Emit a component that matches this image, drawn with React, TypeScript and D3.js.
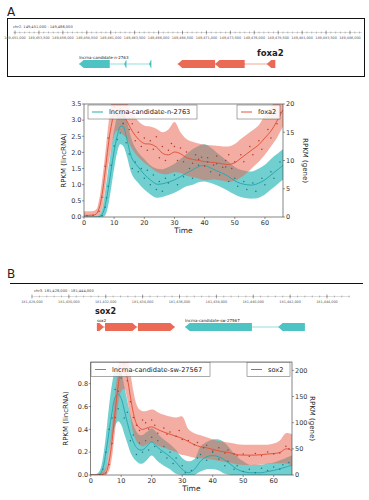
import React from "react";
import * as d3 from "d3";

const W = 369;
const H = 500;
const FONT = "DejaVu Sans, Verdana, sans-serif";

const TEAL_LINE = "#2aa9b0";
const TEAL_FILL = "#4ec3c4";
const TEAL_DOT = "#1c7a80";
const RED_LINE = "#e4553f";
const RED_FILL = "#ea6a55";
const RED_DOT = "#b03a2a";

// ---------- panel A data ----------
const timesA = [0, 2, 4, 5, 6, 7, 8, 9, 10, 11, 12, 13, 14, 16, 18, 20, 22, 24, 26, 28, 30, 32, 34, 36, 38, 40, 42, 44, 46, 48, 50, 52, 54, 56, 58, 60, 62, 64, 66];
const lncMeanA = [0, 0, 0, 0.01, 0.08, 0.35, 0.85, 1.45, 2.05, 2.5, 2.8, 2.8, 2.5, 1.8, 1.55, 1.32, 1.15, 1.02, 1.03, 1.08, 1.15, 1.25, 1.36, 1.46, 1.56, 1.6, 1.52, 1.43, 1.35, 1.25, 1.12, 1.04, 1.0, 0.99, 1.05, 1.15, 1.3, 1.45, 1.6];
const lncLowA = [0, 0, 0, 0, 0, 0.05, 0.35, 0.9, 1.5, 2.0, 2.25, 2.2, 1.95, 1.3, 1.05, 0.85, 0.7, 0.6, 0.62, 0.68, 0.75, 0.85, 0.95, 1.0, 1.08, 1.1, 1.05, 0.98, 0.9, 0.8, 0.7, 0.62, 0.58, 0.57, 0.6, 0.7, 0.85, 1.0, 1.15];
const lncHighA = [0, 0, 0.01, 0.05, 0.25, 0.8, 1.45, 2.1, 2.7, 3.1, 3.3, 3.3, 3.05, 2.35, 2.0, 1.8, 1.6, 1.5, 1.48, 1.55, 1.65, 1.8, 1.95, 2.1, 2.2, 2.25, 2.15, 2.0, 1.85, 1.7, 1.55, 1.46, 1.42, 1.42, 1.5, 1.62, 1.8, 1.95, 2.1];
const geneMeanA = [0.3, 0.3, 0.5, 1.5, 4, 8, 12.5, 16, 18.2, 18.8, 18.5, 18, 17.2, 15.2, 13.8, 13, 12.9, 12.4, 11.3, 11, 11.5, 11.2, 10.5, 10.2, 10, 9.8, 9.7, 9.6, 9.4, 9.3, 9.6, 10.4, 11.2, 12, 12.8, 14, 15.2, 17, 19];
const geneLowA = [0, 0, 0, 0.2, 1.5, 5, 9, 12, 14.5, 15.3, 15, 14.5, 14, 12, 10.6, 9.6, 8.8, 8.0, 7.6, 7.6, 7.9, 7.8, 7.3, 7.1, 6.8, 6.5, 6.6, 6.6, 6.4, 6.2, 6.4, 7.0, 7.8, 8.8, 9.8, 11, 12.5, 14, 16];
const geneHighA = [1.0, 1.0, 1.3, 3, 6.5, 11, 16, 20, 22, 22.5, 22, 21.5, 20.5, 18.5, 17, 16.2, 16, 15.6, 15, 15.5, 16.8, 15, 13.8, 13.3, 13, 12.8, 12.7, 12.6, 12.5, 12.5, 12.9, 13.8, 14.6, 15.4, 16.3, 18, 19.5, 21, 23];
const lncDotsA: [number, number][] = [[6, 0.05], [7, 0.3], [7.5, 0.6], [8, 0.95], [9, 1.6], [10, 2.2], [11, 2.4], [12, 2.6], [13, 2.9], [14, 2.3], [15, 1.95], [16, 1.5], [17, 1.7], [18, 1.4], [19, 1.5], [20, 1.2], [21, 1.45], [22, 1.0], [23, 1.3], [24, 0.85], [25, 1.1], [26, 0.8], [27, 1.2], [28, 1.05], [30, 1.3], [31, 1.0], [33, 1.25], [35, 1.5], [36, 1.2], [38, 1.6], [39, 1.85], [41, 1.7], [42, 1.4], [44, 1.65], [45, 1.3], [47, 1.55], [48, 1.1], [50, 1.2], [51, 0.95], [53, 1.1], [54, 0.85], [56, 1.05], [57, 0.8], [59, 1.2], [60, 1.0], [62, 1.4], [63, 1.2], [65, 1.7]];
const geneDotsA: [number, number][] = [[1, 0.2], [3, 0.3], [5, 1.0], [6, 3.5], [7, 9], [8, 14], [9, 17.5], [10, 19.5], [11, 18], [12, 19.2], [13, 16.5], [14, 18.5], [15, 15.5], [16, 16.5], [17, 13.5], [18, 15], [19, 12.5], [20, 14], [21, 11.8], [22, 13.5], [23, 12], [24, 14.2], [25, 10.5], [26, 12.5], [27, 10], [28, 11.8], [29, 13], [30, 12.5], [31, 10], [32, 12.2], [33, 9.8], [34, 11.5], [36, 9.5], [37, 11], [38, 10.2], [40, 9], [41, 10.5], [43, 9.2], [44, 10.8], [46, 8.8], [47, 10], [48, 11], [49, 8.6], [50, 9.8], [52, 11], [53, 9.8], [55, 12.5], [56, 11], [58, 13.5], [59, 12], [61, 15.5], [62, 14], [64, 16.5], [65, 18.5]];

// ---------- panel B data ----------
const timesB = [0, 2, 3, 4, 5, 6, 7, 8, 9, 10, 11, 12, 13, 14, 15, 16, 17, 18, 19, 20, 21, 22, 24, 26, 28, 30, 32, 34, 36, 38, 40, 42, 44, 46, 48, 50, 52, 54, 56, 58, 60, 62, 64, 66];
const lncMeanB = [0, 0, 0.005, 0.06, 0.2, 0.38, 0.55, 0.68, 0.71, 0.67, 0.57, 0.46, 0.36, 0.29, 0.24, 0.22, 0.22, 0.24, 0.27, 0.29, 0.27, 0.24, 0.2, 0.16, 0.11, 0.05, 0.02, 0.05, 0.12, 0.16, 0.17, 0.16, 0.13, 0.09, 0.05, 0.03, 0.02, 0.02, 0.02, 0.03, 0.04, 0.055, 0.07, 0.085];
const lncLowB = [0, 0, 0, 0, 0.05, 0.2, 0.33, 0.43, 0.47, 0.44, 0.36, 0.28, 0.2, 0.15, 0.12, 0.1, 0.1, 0.12, 0.15, 0.17, 0.15, 0.12, 0.08, 0.05, 0.01, 0, 0, 0, 0.03, 0.05, 0.05, 0.04, 0.01, 0, 0, 0, 0, 0, 0, 0, 0, 0, 0, 0];
const lncHighB = [0, 0.01, 0.04, 0.15, 0.35, 0.6, 0.8, 0.92, 0.95, 0.9, 0.78, 0.65, 0.53, 0.44, 0.38, 0.35, 0.35, 0.37, 0.39, 0.41, 0.39, 0.36, 0.31, 0.27, 0.22, 0.15, 0.12, 0.14, 0.25, 0.29, 0.31, 0.31, 0.28, 0.22, 0.16, 0.12, 0.09, 0.09, 0.09, 0.1, 0.11, 0.13, 0.15, 0.17];
const geneMeanB = [0, 0, 0, 1, 5, 25, 65, 120, 170, 200, 205, 185, 150, 118, 98, 90, 87, 89, 91, 92, 90, 87, 82, 78, 74, 70, 64, 58, 54, 52, 49, 46, 44, 42, 39, 38, 38, 38, 39, 40, 41, 43, 50, 47];
const geneLowB = [0, 0, 0, 0, 0, 8, 35, 85, 135, 160, 165, 145, 110, 80, 65, 58, 55, 57, 60, 62, 60, 56, 52, 48, 44, 38, 36, 33, 32, 31, 29, 27, 25, 23, 20, 19, 19, 19, 20, 21, 22, 22, 22, 18];
const geneHighB = [2, 2, 3, 6, 15, 45, 95, 155, 205, 240, 245, 228, 195, 160, 135, 125, 122, 122, 124, 125, 124, 120, 115, 112, 110, 112, 88, 80, 76, 72, 68, 65, 63, 61, 59, 58, 58, 58, 58, 58, 60, 66, 80, 78];
const lncDotsB: [number, number][] = [[3, 0], [4, 0.05], [5, 0.2], [6, 0.4], [7, 0.5], [8, 0.75], [9, 0.58], [10, 0.85], [11, 0.5], [12, 0.55], [13, 0.3], [14, 0.35], [15, 0.18], [16, 0.28], [17, 0.2], [18, 0.3], [19, 0.22], [20, 0.33], [21, 0.25], [22, 0.3], [23, 0.2], [24, 0.25], [25, 0.15], [26, 0.2], [27, 0.1], [28, 0.15], [30, 0.08], [31, 0.02], [33, 0.04], [35, 0.15], [36, 0.18], [38, 0.13], [40, 0.2], [42, 0.14], [44, 0.08], [45, 0.12], [47, 0.05], [48, 0.08], [50, 0.03], [52, 0.05], [54, 0.02], [56, 0.06], [58, 0.04], [60, 0.07], [62, 0.05], [63, 0.09], [65, 0.11]];
const geneDotsB: [number, number][] = [[3, 0], [5, 4], [6, 20], [7, 60], [8, 110], [9, 160], [10, 190], [11, 212], [12, 180], [13, 140], [14, 110], [15, 95], [16, 85], [17, 105], [18, 100], [19, 88], [20, 105], [21, 95], [22, 80], [24, 90], [25, 78], [26, 82], [28, 74], [29, 85], [30, 68], [32, 66], [34, 58], [35, 62], [37, 52], [38, 57], [40, 46], [42, 52], [44, 42], [45, 48], [47, 40], [48, 37], [50, 40], [52, 36], [54, 41], [56, 37], [58, 44], [60, 40], [62, 42], [64, 55], [65, 50]];

// ---------- gene tracks (genomic coordinates of the shown loci) ----------
const rulerA = { chrom: "chr2: 149,451,000 - 149,486,000", start: 149451000, end: 149486000, step: 2500 };
const lncExonsA: [number, number][] = [[149457700, 149460900], [149462400, 149462650], [149465000, 149465250]];
const geneExonsA: [number, number][] = [[149468000, 149471900], [149471900, 149475000], [149477300, 149478200]];
const rulerB = { chrom: "chr3: 181,428,000 - 181,444,000", start: 181428000, end: 181444000, step: 2000 };
const geneExonsB: [number, number][] = [[181431520, 181431900], [181431960, 181433690], [181433750, 181435750]];
const lncExonsB: [number, number][] = [[181436300, 181439930], [181441350, 181442800]];

const ticksA_left = [0, 0.5, 1, 1.5, 2, 2.5, 3, 3.5];
const ticksA_right = [0, 5, 10, 15, 20];
const ticksB_left = [0, 0.2, 0.4, 0.6, 0.8];
const ticksB_right = [0, 50, 100, 150, 200];
const ticksX = [0, 10, 20, 30, 40, 50, 60];

type Exon = [number, number];

function arrowPath(x0: number, x1: number, y: number, h: number, dir: number) {
  const tip = Math.min(4.5, (x1 - x0) * 0.8);
  const t = y - h / 2, b = y + h / 2;
  if (dir < 0) return `M${x0},${y}L${x0 + tip},${t}L${x1},${t}L${x1},${b}L${x0 + tip},${b}Z`;
  return `M${x1},${y}L${x1 - tip},${t}L${x0},${t}L${x0},${b}L${x1 - tip},${b}Z`;
}

function Ruler({ r, x0, x1, lineStart, lineEnd, y, titleX }: { r: typeof rulerA; x0: number; x1: number; lineStart: number; lineEnd: number; y: number; titleX: number }) {
  const sx = d3.scaleLinear().domain([r.start, r.end]).range([x0, x1]);
  const major = d3.range(r.start, r.end + 1, r.step);
  const minor = d3.range(r.start, sx.invert(lineEnd) + 1, r.step / 5);
  return (
    <g>
      <text x={titleX} y={y - 5} fontSize={3.6} fill="#444" fontFamily={FONT}>{r.chrom}</text>
      <line x1={lineStart} x2={lineEnd} y1={y} y2={y} stroke="#888" strokeWidth={0.3} />
      {minor.map((v, i) => (
        <line key={"m" + i} x1={sx(v)} x2={sx(v)} y1={y - 1} y2={y + 1} stroke="#555" strokeWidth={0.35} />
      ))}
      {major.map((v, i) => (
        <g key={"M" + i}>
          <line x1={sx(v)} x2={sx(v)} y1={y - 2} y2={y + 2} stroke="#333" strokeWidth={0.4} />
          <text x={sx(v)} y={y + 6} fontSize={3.4} fill="#555" textAnchor="middle" fontFamily={FONT}>
            {d3.format(",")(v)}
          </text>
        </g>
      ))}
    </g>
  );
}

function Gene({ sx, exons, y, color, dir, label, labelSize }: { sx: d3.ScaleLinear<number, number>; exons: Exon[]; y: number; color: string; dir: number; label: string; labelSize: number }) {
  const first = sx(exons[0][0]);
  const last = sx(exons[exons.length - 1][1]);
  return (
    <g>
      <line x1={first} x2={last} y1={y} y2={y} stroke={color} strokeWidth={0.6} />
      {exons.map((e, i) => (
        <path key={i} d={arrowPath(sx(e[0]), sx(e[1]), y, 8, dir)} fill={color} />
      ))}
      <text x={first} y={y - 5.5} fontSize={labelSize} fill="#222" fontFamily={FONT}>{label}</text>
    </g>
  );
}

type PanelProps = {
  top: number; bottom: number; left: number; right: number;
  times: number[];
  lncMean: number[]; lncLow: number[]; lncHigh: number[];
  geneMean: number[]; geneLow: number[]; geneHigh: number[];
  lncDots: [number, number][]; geneDots: [number, number][];
  yMaxL: number; yMaxR: number; ticksL: number[]; ticksR: number[];
  lncName: string; geneName: string;
  legL: [number, number, number]; legR: [number, number, number];
  id: string; yLabelLx: number; yLabelRx: number;
};

function Panel(p: PanelProps) {
  const x = d3.scaleLinear().domain([0, 66]).range([p.left, p.right]);
  const yL = d3.scaleLinear().domain([0, p.yMaxL]).range([p.bottom, p.top]);
  const yR = d3.scaleLinear().domain([0, p.yMaxR]).range([p.bottom, p.top]);
  const idx = d3.range(p.times.length);
  const curve = d3.curveCatmullRom.alpha(0.5);
  const areaL = d3.area<number>().x((i) => x(p.times[i])).y0((i) => yL(p.lncLow[i])).y1((i) => yL(p.lncHigh[i])).curve(curve);
  const areaR = d3.area<number>().x((i) => x(p.times[i])).y0((i) => yR(p.geneLow[i])).y1((i) => yR(p.geneHigh[i])).curve(curve);
  const lineL = d3.line<number>().x((i) => x(p.times[i])).y((i) => yL(p.lncMean[i])).curve(curve);
  const lineR = d3.line<number>().x((i) => x(p.times[i])).y((i) => yR(p.geneMean[i])).curve(curve);
  const midY = (p.top + p.bottom) / 2;
  const lh = 14;
  return (
    <g fontFamily={FONT}>
      <defs>
        <clipPath id={"clip" + p.id}>
          <rect x={p.left} y={p.top} width={p.right - p.left} height={p.bottom - p.top} />
        </clipPath>
      </defs>
      <g clipPath={`url(#clip${p.id})`}>
        <path d={areaL(idx) || ""} fill={TEAL_FILL} fillOpacity={0.8} />
        <path d={areaR(idx) || ""} fill={RED_FILL} fillOpacity={0.55} />
        <path d={lineL(idx) || ""} fill="none" stroke={TEAL_LINE} strokeWidth={1} />
        <path d={lineR(idx) || ""} fill="none" stroke={RED_LINE} strokeWidth={1} />
        {p.lncDots.map((d, i) => (
          <circle key={"l" + i} cx={x(d[0])} cy={yL(d[1])} r={0.75} fill={TEAL_DOT} />
        ))}
        {p.geneDots.map((d, i) => (
          <circle key={"g" + i} cx={x(d[0])} cy={yR(d[1])} r={0.75} fill={RED_DOT} />
        ))}
      </g>
      <rect x={p.left} y={p.top} width={p.right - p.left} height={p.bottom - p.top} fill="none" stroke="#333" strokeWidth={0.6} />
      {p.ticksL.map((t) => (
        <g key={"tl" + t}>
          <line x1={p.left - 2} x2={p.left} y1={yL(t)} y2={yL(t)} stroke="#333" strokeWidth={0.5} />
          <text x={p.left - 2.5} y={yL(t)} dy="0.35em" fontSize={6.5} textAnchor="end" fill="#333">{t.toFixed(1)}</text>
        </g>
      ))}
      {p.ticksR.map((t) => (
        <g key={"tr" + t}>
          <line x1={p.right} x2={p.right + 2} y1={yR(t)} y2={yR(t)} stroke="#333" strokeWidth={0.5} />
          <text x={p.right + 3} y={yR(t)} dy="0.35em" fontSize={6.5} textAnchor="start" fill="#333">{t}</text>
        </g>
      ))}
      {ticksX.map((t) => (
        <g key={"tx" + t}>
          <line x1={x(t)} x2={x(t)} y1={p.bottom} y2={p.bottom + 2} stroke="#333" strokeWidth={0.5} />
          <text x={x(t)} y={p.bottom + 8} fontSize={6.5} textAnchor="middle" fill="#333">{t}</text>
        </g>
      ))}
      <text x={(p.left + p.right) / 2} y={p.bottom + 15.5} fontSize={7.5} textAnchor="middle" fill="#222">Time</text>
      <text transform={`translate(${p.yLabelLx},${midY}) rotate(-90)`} fontSize={7} textAnchor="middle" fill="#222">RPKM (lincRNA)</text>
      <text transform={`translate(${p.yLabelRx},${midY}) rotate(90)`} fontSize={7} textAnchor="middle" fill="#222">RPKM (gene)</text>
      {/* legends */}
      <rect x={p.legL[0]} y={p.legL[2]} width={p.legL[1] - p.legL[0]} height={lh} fill="#fff" fillOpacity={0.85} stroke="#555" strokeWidth={0.5} />
      <line x1={p.legL[0] + 4} x2={p.legL[0] + 15} y1={p.legL[2] + lh / 2} y2={p.legL[2] + lh / 2} stroke={TEAL_LINE} strokeWidth={1} />
      <text x={p.legL[0] + 21} y={p.legL[2] + lh / 2} dy="0.35em" fontSize={6.6} fill="#222">{p.lncName}</text>
      <rect x={p.legR[0]} y={p.legR[2]} width={p.legR[1] - p.legR[0]} height={lh} fill="#fff" fillOpacity={0.85} stroke="#555" strokeWidth={0.5} />
      <line x1={p.legR[0] + 4} x2={p.legR[0] + 15} y1={p.legR[2] + lh / 2} y2={p.legR[2] + lh / 2} stroke={RED_LINE} strokeWidth={1} />
      <text x={p.legR[0] + 21} y={p.legR[2] + lh / 2} dy="0.35em" fontSize={6.6} fill="#222">{p.geneName}</text>
    </g>
  );
}

export default function App() {
  const sxA = d3.scaleLinear().domain([rulerA.start, rulerA.end]).range([15, 350]);
  const sxB = d3.scaleLinear().domain([rulerB.start, rulerB.end]).range([32, 327]);
  return (
    <svg width={W} height={H} style={{ position: "absolute", left: 0, top: 0, background: "#fff" }}>
      <rect x={0} y={0} width={W} height={H} fill="#fff" />
      {/* Panel A gene track */}
      <text x={7} y={16} fontSize={12} fontFamily={FONT} fill="#222">A</text>
      <rect x={7.5} y={18.5} width={357} height={58} fill="none" stroke="#111" strokeWidth={1} />
      <Ruler r={rulerA} x0={15} x1={350} lineStart={13} lineEnd={362} y={32.5} titleX={13} />
      <Gene sx={sxA} exons={lncExonsA} y={64} color={TEAL_FILL} dir={-1} label="lncrna-candidate-n-2763" labelSize={4} />
      <Gene sx={sxA} exons={geneExonsA} y={64} color={RED_FILL} dir={-1} label="" labelSize={4} />
      <text x={257} y={56} fontSize={8.5} fontWeight="bold" fontFamily={FONT} fill="#222">foxa2</text>

      <Panel
        id="A" top={104} bottom={217} left={84} right={283}
        times={timesA} lncMean={lncMeanA} lncLow={lncLowA} lncHigh={lncHighA}
        geneMean={geneMeanA} geneLow={geneLowA} geneHigh={geneHighA}
        lncDots={lncDotsA} geneDots={geneDotsA}
        yMaxL={3.5} yMaxR={20} ticksL={ticksA_left} ticksR={ticksA_right}
        lncName="lncrna-candidate-n-2763" geneName="foxa2"
        legL={[88, 197, 105]} legR={[237, 280, 105]}
        yLabelLx={66} yLabelRx={303}
      />

      {/* Panel B gene track */}
      <text x={7} y={278} fontSize={12} fontFamily={FONT} fill="#222">B</text>
      <line x1={10} x2={363} y1={283.5} y2={283.5} stroke="#111" strokeWidth={1} />
      <Ruler r={rulerB} x0={32} x1={327} lineStart={33} lineEnd={350} y={296.5} titleX={34} />
      <text x={95} y={314} fontSize={8} fontWeight="bold" fontFamily={FONT} fill="#222">sox2</text>
      <Gene sx={sxB} exons={geneExonsB} y={327} color={RED_FILL} dir={1} label="sox2" labelSize={4} />
      <Gene sx={sxB} exons={lncExonsB} y={327} color={TEAL_FILL} dir={-1} label="lncrna-candidate-sw-27567" labelSize={4} />

      <Panel
        id="B" top={362} bottom={475} left={90.7} right={292}
        times={timesB} lncMean={lncMeanB} lncLow={lncLowB} lncHigh={lncHighB}
        geneMean={geneMeanB} geneLow={geneLowB} geneHigh={geneHighB}
        lncDots={lncDotsB} geneDots={geneDotsB}
        yMaxL={0.99} yMaxR={216} ticksL={ticksB_left} ticksR={ticksB_right}
        lncName="lncrna-candidate-sw-27567" geneName="sox2"
        legL={[91, 210, 362.5]} legR={[247, 290, 362.5]}
        yLabelLx={68} yLabelRx={310}
      />
    </svg>
  );
}
